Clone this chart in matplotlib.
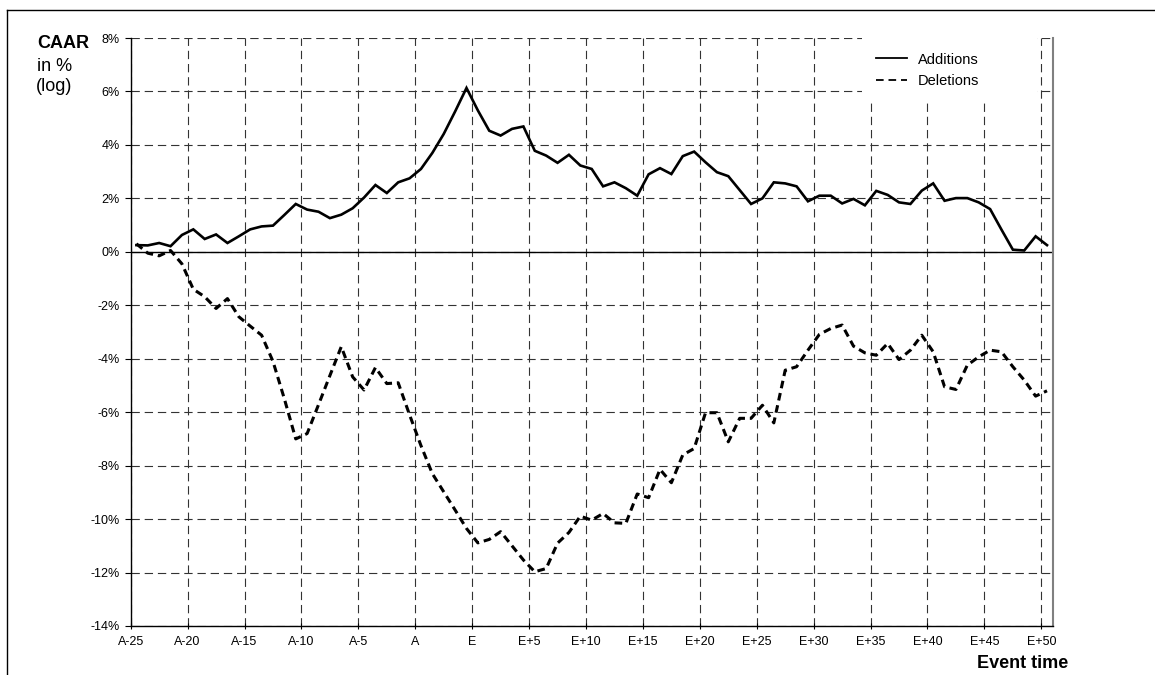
import numpy as np
import matplotlib
matplotlib.use("Agg")
import matplotlib.pyplot as plt
from matplotlib.lines import Line2D

plt.rcParams['font.family'] = ['Liberation Sans', 'DejaVu Sans']
plt.rcParams['lines.scale_dashes'] = False

# event time axis labels (one tick every 5 trading days)
tick_labels = ['A-25', 'A-20', 'A-15', 'A-10', 'A-5', 'A', 'E', 'E+5', 'E+10',
               'E+15', 'E+20', 'E+25', 'E+30', 'E+35', 'E+40', 'E+45', 'E+50']

# CAAR in %
additions = [0.25, 0.24, 0.33, 0.21, 0.63, 0.84, 0.48, 0.65, 0.33, 0.58,
             0.84, 0.95, 0.98, 1.38, 1.79, 1.58, 1.50, 1.26, 1.39, 1.63,
             2.03, 2.50, 2.20, 2.60, 2.75, 3.10, 3.70, 4.41, 5.25, 6.13,
             5.29, 4.53, 4.35, 4.60, 4.69, 3.78, 3.60, 3.33, 3.63, 3.23,
             3.10, 2.45, 2.60, 2.38, 2.10, 2.90, 3.13, 2.91, 3.58, 3.75,
             3.35, 2.98, 2.83, 2.31, 1.79, 2.00, 2.60, 2.56, 2.45, 1.89,
             2.10, 2.10, 1.81, 1.98, 1.74, 2.28, 2.13, 1.85, 1.79, 2.29,
             2.56, 1.91, 2.01, 2.01, 1.85, 1.60, 0.83, 0.08, 0.05, 0.58,
             0.25]

deletions = [0.30, -0.05, -0.15, 0.05, -0.45, -1.40, -1.68, -2.12, -1.75, -2.43,
             -2.78, -3.12, -4.10, -5.50, -7.00, -6.80, -5.72, -4.63, -3.55, -4.68,
             -5.17, -4.33, -4.93, -4.90, -6.10, -7.25, -8.30, -8.98, -9.66, -10.35,
             -10.89, -10.76, -10.47, -11.00, -11.53, -11.97, -11.85, -10.90, -10.50, -9.89,
             -10.04, -9.79, -10.14, -10.16, -9.06, -9.20, -8.14, -8.64, -7.60, -7.36,
             -6.02, -6.02, -7.11, -6.23, -6.23, -5.74, -6.40, -4.43, -4.30, -3.68,
             -3.09, -2.87, -2.74, -3.53, -3.78, -3.87, -3.43, -4.03, -3.68, -3.12,
             -3.74, -5.05, -5.15, -4.24, -3.93, -3.68, -3.74, -4.30, -4.80, -5.40,
             -5.20]

y_ticks = [8, 6, 4, 2, 0, -2, -4, -6, -8, -10, -12, -14]

x = np.arange(len(additions)) + 0.5

fig = plt.figure(figsize=(11.55, 6.75), dpi=100)
ax = fig.add_axes([130.7 / 1155, 1 - 626 / 675, (1052.7 - 130.7) / 1155, (626 - 38) / 675])

ax.plot(x, additions, color='black', lw=1.9, label='Additions', solid_joinstyle='miter')
ax.plot(x, deletions, color='black', lw=2.2, dashes=(5.5, 3.5), label='Deletions')
ax.axhline(0, color='black', lw=1.0, zorder=1)

ax.set_xlim(0, 81)
ax.set_ylim(-14, 8)
ax.set_xticks(np.arange(0, 81, 5))
ax.set_xticklabels(tick_labels)
ax.set_yticks(y_ticks)
ax.set_yticklabels([f'{v}%' for v in y_ticks])

ax.grid(True, color='#333333', lw=0.8, dashes=(6, 3.5))
ax.set_axisbelow(True)

ax.spines['top'].set_visible(False)
ax.spines['right'].set_color('#808080')
ax.spines['right'].set_linewidth(1.5)
ax.spines['left'].set_linewidth(1.0)
ax.spines['bottom'].set_linewidth(1.0)

ax.tick_params(axis='y', direction='out', length=4, width=0.8, pad=4, labelsize=9)
ax.tick_params(axis='x', direction='inout', length=5, width=0.8, pad=5, labelsize=9)

leg = ax.legend(loc='upper left', bbox_to_anchor=(0.793, 1.0, 0.19, 0), mode='expand',
                borderaxespad=0, frameon=True, fancybox=False, edgecolor='none',
                facecolor='white', framealpha=1, fontsize=10.5, handlelength=2.1,
                handletextpad=0.75, labelspacing=0.5, borderpad=1.0)
for h in leg.get_lines():
    h.set_linewidth(1.3)

fig.text(37 / 1155, 1 - 48 / 675, 'CAAR', fontsize=13, fontweight='bold', va='baseline')
fig.text(37 / 1155, 1 - 71 / 675, 'in %', fontsize=13, va='baseline')
fig.text(36 / 1155, 1 - 91 / 675, '(log)', fontsize=13, va='baseline')
fig.text(1068 / 1155, 1 - 668 / 675, 'Event time', fontsize=13, fontweight='bold',
         ha='right', va='baseline')

# outer frame of the exhibit
fig.add_artist(Line2D([7 / 1155, 7 / 1155], [0, 1 - 10 / 675], color='black', lw=1.0))
fig.add_artist(Line2D([7 / 1155, 1], [1 - 10 / 675, 1 - 10 / 675], color='black', lw=1.0))

fig.savefig('out.png', dpi=100)
